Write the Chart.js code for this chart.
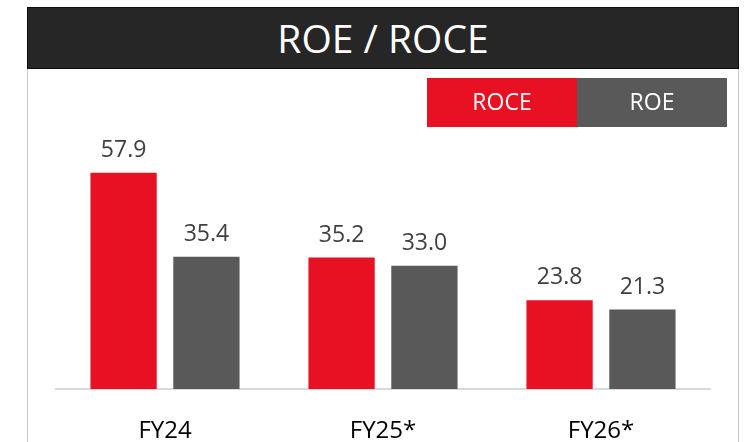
<!DOCTYPE html>
<html>
<head>
<meta charset="utf-8">
<script src="https://cdn.jsdelivr.net/npm/chart.js@4.4.1/dist/chart.umd.min.js"></script>
<style>
  body { margin: 0; background: #fff; }
  #wrap { position: relative; width: 749px; height: 442px; overflow: hidden; }
  #title {
    position: absolute; left: 27px; top: 7px; width: 710px; height: 60px;
    background: #262626; border: 1px solid #0d0d0d;
    color: #fff; font-family: "Open Sans", sans-serif; font-size: 39px;
    line-height: 60px; text-align: center;
  }
  #panel {
    position: absolute; left: 27px; top: 69px; width: 710px; height: 400px;
    border-left: 1.5px solid #c9c9c9; border-right: 1.5px solid #c9c9c9;
  }
  canvas { position: absolute; left: 0; top: 0; }
</style>
</head>
<body>
<div id="wrap">
  <div id="panel"></div>
  <div id="title">ROE / ROCE</div>
  <canvas id="chart" width="749" height="442"></canvas>
</div>
<script>
const categories = ["FY24", "FY25*", "FY26*"];
const roce = [57.9, 35.2, 23.8];
const roe = [35.4, 33.0, 21.3];
const seriesNames = ["ROCE", "ROE"];

// legend drawn as two filled boxes with the series name inside
const boxLegend = {
  id: "boxLegend",
  afterDraw(chart) {
    const ctx = chart.ctx;
    const x0 = 427, y0 = 78, w = 150, h = 49;
    ctx.save();
    chart.data.datasets.forEach((ds, i) => {
      const x = x0 + i * w;
      ctx.fillStyle = ds.backgroundColor;
      ctx.fillRect(x, y0, w, h);
      ctx.fillStyle = "#fff";
      ctx.font = "23px 'Open Sans', sans-serif";
      ctx.textAlign = "center";
      ctx.textBaseline = "middle";
      ctx.fillText(ds.label, x + w / 2, y0 + h / 2 + 1);
    });
    ctx.restore();
  }
};

// value labels above the bars
const valueLabels = {
  id: "valueLabels",
  afterDatasetsDraw(chart) {
    const ctx = chart.ctx;
    ctx.save();
    ctx.fillStyle = "#404040";
    ctx.font = "23px 'Open Sans', sans-serif";
    ctx.textAlign = "center";
    ctx.textBaseline = "bottom";
    chart.data.datasets.forEach((ds, i) => {
      chart.getDatasetMeta(i).data.forEach((bar, j) => {
        ctx.fillText(ds.data[j].toFixed(1), bar.x, bar.y - 11);
      });
    });
    ctx.restore();
  }
};

new Chart(document.getElementById("chart"), {
  type: "bar",
  data: {
    labels: categories,
    datasets: [
      { label: seriesNames[0], data: roce, backgroundColor: "#E81123" },
      { label: seriesNames[1], data: roe, backgroundColor: "#595959" }
    ]
  },
  options: {
    responsive: false,
    animation: false,
    categoryPercentage: 0.76,
    barPercentage: 0.8,
    layout: { padding: { left: 56, right: 39, top: 165, bottom: 0 } },
    plugins: { legend: { display: false }, tooltip: { enabled: false } },
    scales: {
      x: {
        grid: { display: false, drawTicks: false },
        border: { color: "#d9d9d9", width: 2 },
        afterFit(scale) { scale.height = 53; },
        ticks: {
          color: "#000",
          padding: 28,
          font: { family: "'Open Sans', sans-serif", size: 24 }
        }
      },
      y: { display: false, min: 0, max: 60 }
    }
  },
  plugins: [boxLegend, valueLabels]
});
</script>
</body>
</html>
